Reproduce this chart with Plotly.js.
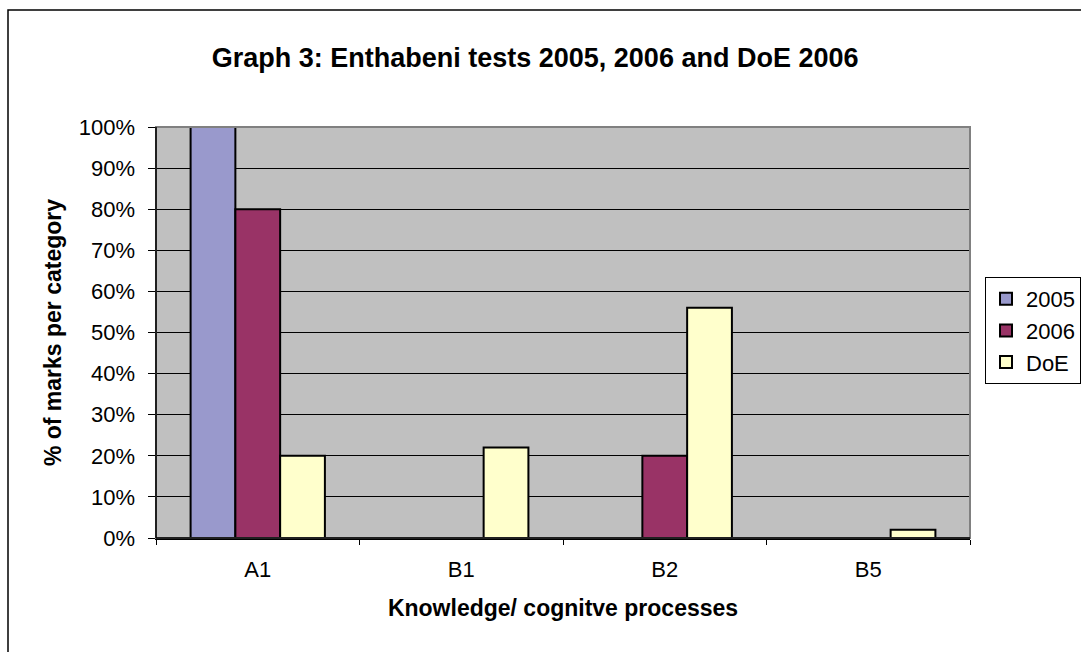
<!DOCTYPE html>
<html>
<head>
<meta charset="utf-8">
<script src="https://cdn.plot.ly/plotly-3.0.1.min.js"></script>
<style>html,body{margin:0;padding:0;background:#fff;overflow:hidden;}#chart{width:1081px;height:652px;}</style>
</head>
<body>
<div id="chart"></div>
<script>
const categories = ["A1", "B1", "B2", "B5"];
const series2005 = [1.00, 0, 0, 0];
const series2006 = [0.80, 0, 0.20, 0];
const seriesDoE = [0.20, 0.22, 0.56, 0.02];
const seriesNames = ["2005", "2006", "DoE"];
const yTickVals = [0, 0.1, 0.2, 0.3, 0.4, 0.5, 0.6, 0.7, 0.8, 0.9, 1.0];

const colors = ["#9999CC", "#993366", "#FFFFCC"];
const allSeries = [series2005, series2006, seriesDoE];

const traces = allSeries.map((vals, i) => ({
  type: "bar",
  name: seriesNames[i],
  x: categories,
  y: vals,
  marker: {color: colors[i], line: {color: "#000", width: 2}},
  hoverinfo: "x+y+name"
}));

const L = 156, R = 970, T = 127, B = 538, W = 1081, H = 652;
const pw = R - L, ph = B - T;
const px = v => (v - L) / pw;
const py = v => (B - v) / ph;

const layout = {
  width: W, height: H,
  paper_bgcolor: "#ffffff",
  plot_bgcolor: "#C0C0C0",
  margin: {l: L, r: W - R, t: T, b: H - B, pad: 0, autoexpand: false},
  font: {family: "Liberation Sans, Arial, sans-serif", color: "#000", size: 22},
  title: {
    text: "<b>Graph 3: Enthabeni tests 2005, 2006 and DoE 2006</b>",
    font: {size: 27, family: "Liberation Sans, Arial, sans-serif", color: "#000"},
    x: 0.495, xanchor: "center", xref: "container",
    y: 1 - 58 / H, yanchor: "middle", yref: "container"
  },
  barmode: "group",
  bargap: 0.34,
  bargroupgap: 0,
  showlegend: true,
  legend: {
    xref: "container", yref: "container",
    x: 985 / W, xanchor: "left", y: 1 - 277 / H, yanchor: "top",
    bordercolor: "#000", borderwidth: 1, bgcolor: "#fff",
    font: {size: 22}, tracegroupgap: 0, itemwidth: 30
  },
  xaxis: {
    type: "category",
    tickvals: categories,
    showline: true, linecolor: "#000", linewidth: 1.5,
    ticks: "outside", tickson: "boundaries", ticklen: 5, tickcolor: "#000",
    tickfont: {size: 22},
    ticklabelstandoff: 11,
    showgrid: false, zeroline: false,
    title: {text: "<b>Knowledge/ cognitve processes</b>", font: {size: 23}, standoff: 19},
    fixedrange: true
  },
  yaxis: {
    range: [0, 1],
    tickvals: yTickVals,
    tickformat: ".0%",
    showline: true, linecolor: "#000", linewidth: 1.5,
    ticks: "outside", ticklen: 7, tickcolor: "#000",
    tickfont: {size: 22},
    ticklabelstandoff: 8,
    showgrid: true, gridcolor: "#000", gridwidth: 1,
    zeroline: false,
    title: {text: "<b>% of marks per category</b>", font: {size: 23}, standoff: 11},
    fixedrange: true
  },
  shapes: [
    {type: "rect", xref: "paper", yref: "paper", x0: 0, x1: 1, y0: 0, y1: 1,
     line: {color: "#808080", width: 2}, fillcolor: "rgba(0,0,0,0)", layer: "above"},
    {type: "line", xref: "paper", yref: "paper", x0: 0, x1: 0, y0: 0, y1: 1,
     line: {color: "#000", width: 1.5}, layer: "above"},
    {type: "line", xref: "paper", yref: "paper", x0: 0, x1: 1, y0: 0, y1: 0,
     line: {color: "#000", width: 1.5}, layer: "above"},
    {type: "rect", xref: "paper", yref: "paper", x0: px(8), x1: px(1100), y0: py(680), y1: py(10),
     line: {color: "#000", width: 1.5}, fillcolor: "rgba(0,0,0,0)"}
  ]
};

Plotly.newPlot("chart", traces, layout, {displayModeBar: false, staticPlot: true});
</script>
</body>
</html>
